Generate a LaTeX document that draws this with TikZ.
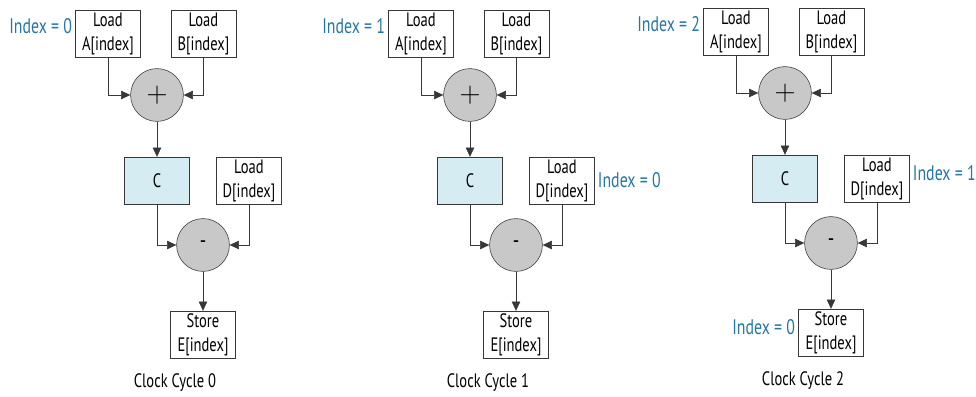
\documentclass[tikz,border=0pt]{standalone}
\usepackage{fontspec}
\setmainfont{PT Sans}[FakeStretch=0.75]
\usepackage{tikz}
\usetikzlibrary{arrows.meta, positioning, calc}

\definecolor{idxblue}{RGB}{35,118,165}
\definecolor{regfill}{RGB}{214,236,243}
\definecolor{opfill}{RGB}{200,200,200}
\definecolor{edgegray}{RGB}{55,55,55}

\tikzset{
    memop/.style={draw=edgegray, fill=white, minimum width=1.63cm, minimum height=1.17cm,
        inner sep=0pt, align=center, font=\fontsize{13.8}{17}\selectfont},
    reg/.style={memop, fill=regfill},
    alu/.style={draw=edgegray, fill=opfill, circle, minimum size=1.32cm, inner sep=0pt,
        font=\fontsize{17}{17}\selectfont},
    idx/.style={text=idxblue, inner sep=0pt, font=\fontsize{15}{15}\selectfont},
    cyc/.style={font=\fontsize{13.8}{14}\selectfont},
    flow/.style={draw=edgegray, -{Triangle[length=2.3mm, width=2.1mm]}}
}

\begin{document}
\begin{tikzpicture}[x=0.025cm, y=-0.025cm]
    \useasboundingbox (0,0) rectangle (976,396);

    % One pipeline per clock cycle
    \foreach \i/\dx/\dy in {0/0/0, 1/313/0, 2/628/-2} {
        \begin{scope}[shift={(\dx,\dy)}]
            \node[memop] (a\i) at (108, 33.5) {Load\\A[index]};
            \node[memop] (b\i) at (203.5, 33.5) {Load\\B[index]};
            \node[alu] (add\i) at (157, 95) {\fontsize{22}{22}\selectfont$+$};
            \node[reg] (c\i) at (157, 180.5) {C};
            \node[memop] (d\i) at (249, 180.5) {Load\\D[index]};
            \node[alu] (sub\i) at (203, 245) {-};
            \node[memop] (e\i) at (203, 334.5) {Store\\E[index]};
            \node[cyc] (cc\i) at (175, 383) {Clock Cycle \i};

            \draw[flow] (a\i.south) |- (add\i.west);
            \draw[flow] (b\i.south) |- (add\i.east);
            \draw[flow] (add\i) -- (c\i);
            \draw[flow] (c\i.south) |- (sub\i.west);
            \draw[flow] (d\i.south) |- (sub\i.east);
            \draw[flow] (sub\i) -- (e\i);
        \end{scope}
    }

    % Index values in flight
    \node[idx, left=2pt of a0, yshift=5pt] (ia0) {Index = 0};
    \node[idx, left=2pt of a1, yshift=5pt] (ia1) {Index = 1};
    \node[idx, right=2pt of d1, yshift=0pt] (id1) {Index = 0};
    \node[idx, left=2pt of a2, yshift=5pt] (ia2) {Index = 2};
    \node[idx, right=2pt of d2, yshift=4pt] (id2) {Index = 1};
    \node[idx, left=2pt of e2, yshift=4pt] (ie2) {Index = 0};
\end{tikzpicture}
\end{document}
